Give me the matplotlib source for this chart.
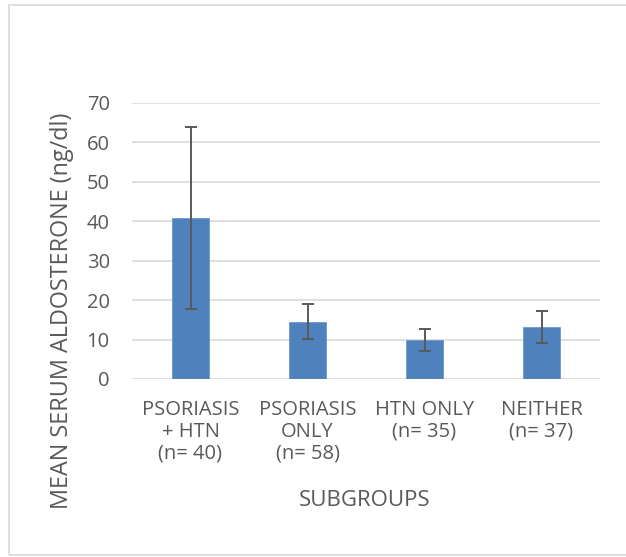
import numpy as np
import matplotlib
matplotlib.use("Agg")
import matplotlib.pyplot as plt
from matplotlib.patches import Rectangle

plt.rcParams['font.family'] = ['Open Sans', 'DejaVu Sans']

# data
groups = ['PSORIASIS\n+ HTN\n(n= 40)', 'PSORIASIS\nONLY\n(n= 58)', 'HTN ONLY\n(n= 35)', 'NEITHER\n(n= 37)']
means = [40.8, 14.5, 9.9, 13.2]
errs = [23.0, 4.4, 2.8, 4.1]
yticks = [0, 10, 20, 30, 40, 50, 60, 70]

W, H = 626, 557
fig = plt.figure(figsize=(W / 100, H / 100), dpi=100)
fig.patch.set_facecolor('white')

# outer chart border
fig.patches.append(Rectangle((9 / W, 1 - 555 / H), 1.0, (555 - 5) / H,
                             transform=fig.transFigure, fill=False,
                             edgecolor='#d9d9d9', linewidth=1.2))

ax = fig.add_axes([132 / W, 1 - 379 / H, (600 - 132) / W, (379 - 103) / H])
x = np.arange(len(groups))
ax.bar(x, means, width=0.31, color='#4f81bd', edgecolor='#6f97c9', linewidth=0.6, zorder=3)
ax.errorbar(x, means, yerr=errs, fmt='none', ecolor='#595959', elinewidth=1.4,
            capsize=4.3, capthick=1.4, zorder=4)

ax.set_xlim(-0.5, len(groups) - 0.5)
ax.set_ylim(0, 70)
ax.set_yticks(yticks)
ax.set_xticks(x)
ax.set_xticklabels(groups, linespacing=1.12)
ax.grid(axis='y', color='#d9d9d9', linewidth=1.2, zorder=0)
for s in ax.spines.values():
    s.set_visible(False)
ax.tick_params(axis='both', length=0, labelsize=14.5, colors='#595959')
ax.tick_params(axis='y', pad=16)
ax.tick_params(axis='x', pad=15)

fig.text(62 / W, 1 - 311 / H, 'MEAN SERUM ALDOSTERONE (ng/dl)', rotation=90,
         ha='center', va='center', fontsize=16.8, color='#595959')
fig.text(365 / W, 1 - 501 / H, 'SUBGROUPS', ha='center', va='center',
         fontsize=16, color='#595959')

fig.savefig('out.png', dpi=100, facecolor='white')
